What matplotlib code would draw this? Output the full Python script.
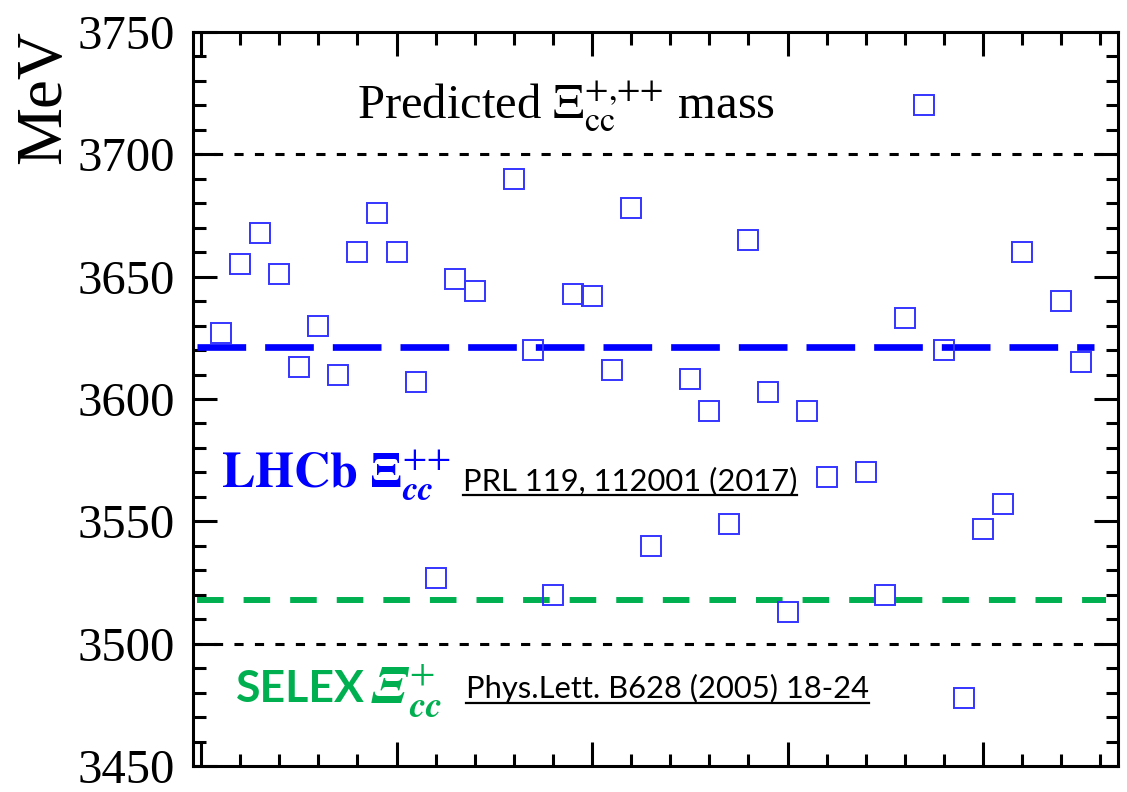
import matplotlib
matplotlib.use("Agg")
import matplotlib.pyplot as plt
from matplotlib.lines import Line2D
from matplotlib.ticker import MultipleLocator

# =========================
# DATA
# =========================
# model index (half steps) and predicted masses in MeV
model_pos = [0.5, 1.0, 1.5, 2.0, 2.5, 3.0, 3.5, 4.0, 4.5, 5.0, 5.5, 6.0, 6.5, 7.0,
             8.0, 8.5, 9.0, 9.5, 10.0, 10.5, 11.0, 11.5, 12.5, 13.0, 13.5, 14.0,
             14.5, 15.0, 15.5, 16.0, 17.0, 17.5, 18.0, 18.5, 19.0, 19.5, 20.0,
             20.5, 21.0, 22.0, 22.5]
pred_mass = [3627, 3655, 3668, 3651, 3613, 3630, 3610, 3660, 3676, 3660, 3607, 3527,
             3649, 3644, 3690, 3620, 3520, 3643, 3642, 3612, 3678, 3540, 3608, 3595,
             3549, 3665, 3603, 3513, 3595, 3568, 3570, 3520, 3633, 3720, 3620, 3478,
             3547, 3557, 3660, 3640, 3615]

lhcb_mass = 3621.2
selex_mass = 3518.0
band_lines = [3500, 3700]

# =========================
# FIGURE
# =========================
plt.rcParams["font.family"] = ["Liberation Serif", "DejaVu Serif"]
plt.rcParams["mathtext.fontset"] = "stix"

fig = plt.figure(figsize=(11.27, 7.92), dpi=100)
ax = fig.add_axes([0.1713, 0.0328, 0.8207, 0.9268])

ax.set_xlim(-0.205, 23.45)
ax.set_ylim(3450, 3750)

for v in band_lines:
    ax.axhline(v, color="black", lw=2.2, dashes=(3.0, 3.7), zorder=1)

ax.plot([-0.1, 22.84], [lhcb_mass, lhcb_mass], color="#0000ff", lw=4.8,
        dashes=(7.3, 2.85), solid_capstyle="butt", zorder=2)
ax.plot([-0.1, 23.15], [selex_mass, selex_mass], color="#00b050", lw=4.3,
        dashes=(4.45, 3.35), solid_capstyle="butt", zorder=2)

ax.plot(model_pos, pred_mass, ls="none", marker="s", ms=14, mfc="none",
        mec="#3535ff", mew=1.4, zorder=3)

# axes styling
for s in ax.spines.values():
    s.set_linewidth(2.2)
ax.xaxis.set_major_locator(MultipleLocator(5))
ax.xaxis.set_minor_locator(MultipleLocator(1))
ax.yaxis.set_major_locator(MultipleLocator(50))
ax.yaxis.set_minor_locator(MultipleLocator(10))
ax.tick_params(which="both", direction="in", top=True, right=True, width=2.2)
ax.tick_params(which="major", length=17)
ax.tick_params(which="minor", length=9)
ax.tick_params(axis="x", labelbottom=False)
ax.tick_params(axis="y", labelsize=35, pad=13)

fig.text(0.039, 0.878, "MeV", rotation=90, fontsize=47, ha="center", va="center")

# =========================
# TEXT
# =========================
ax.text(9.33, 3715, r"Predicted $\Xi_{\rm cc}^{{+}{,}{+}{+}}$ mass", fontsize=35,
        ha="center", va="baseline")

ax.text(0.51, 3564, r"$\mathbf{LHCb}\ \mathbf{\Xi}_{\mathbfit{cc}}^{{+}{+}}$",
        fontsize=36, color="#0000ff", ha="left", va="baseline")
ax.text(0.9, 3476, "SELEX", fontsize=32, color="#00b050", fontweight="bold",
        family="Lato", ha="left", va="baseline")
ax.text(4.3, 3476, r"$\mathbfit{\Xi}_{\mathbfit{cc}}^{{+}}$",
        fontsize=38, color="#00b050", ha="left", va="baseline")

refs = [
    ax.text(6.7, 3562.7, "PRL 119, 112001 (2017)", fontsize=22.2, family="Lato",
            ha="left", va="baseline"),
    ax.text(6.78, 3477.9, "Phys.Lett. B628 (2005) 18-24", fontsize=22.2, family="Lato",
            ha="left", va="baseline"),
]

# underline the references
fig.canvas.draw()
renderer = fig.canvas.get_renderer()
W, H = fig.bbox.width, fig.bbox.height
for t in refs:
    bb = t.get_window_extent(renderer)
    x0, y0 = t.get_transform().transform(t.get_position())
    yl = (y0 - 5) / H
    fig.add_artist(Line2D([bb.x0 / W, bb.x1 / W], [yl, yl], color="black", lw=1.6))

fig.savefig("out.png", dpi=100)
